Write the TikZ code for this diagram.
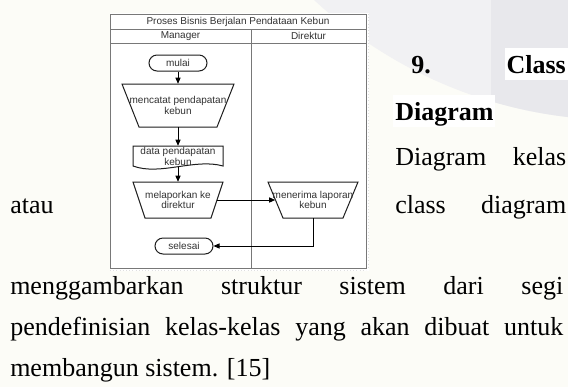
\documentclass[tikz,border=0pt]{standalone}
\usepackage{fontspec}
\setmainfont{Liberation Serif}
\newfontfamily\diafont{Liberation Sans}
\usetikzlibrary{arrows.meta}
\definecolor{pagebg}{RGB}{252,252,247}
\definecolor{wmlight}{RGB}{241,241,243}
\definecolor{wmdark}{RGB}{232,232,236}
\definecolor{laneline}{RGB}{120,120,120}
\definecolor{shapeline}{RGB}{30,30,30}
\definecolor{diatext}{RGB}{50,50,50}
\begin{document}
\begin{tikzpicture}[x=0.75pt,y=-0.75pt,
  lbl/.style={font=\diafont\fontsize{7.5}{6.8}\selectfont, text=diatext, inner sep=0pt, align=center},
  term/.style={lbl, draw=shapeline, line width=0.75pt, rounded corners=6pt, minimum width=43.5pt, minimum height=12pt},
  outline/.style={draw=shapeline, line width=0.75pt},
  flow/.style={draw=black, line width=0.7pt, -{Triangle[length=4.5pt,width=3.8pt]}},
  para/.style={font=\fontsize{19.5}{23}\selectfont, inner sep=0pt, anchor=base west},
  lane/.style={draw=laneline, line width=0.6pt}
]
\useasboundingbox (0,0) rectangle (568,387);
% page background and watermark
\fill[pagebg] (0,0) rectangle (568,387);
\begin{scope}
  \clip (0,0) rectangle (568,387);
  \fill[wmlight] (620,-330) circle[radius=337.5pt];
  \clip (491,0) rectangle (568,387);
  \fill[wmdark] (620,-330) circle[radius=337.5pt];
\end{scope}
% text highlight boxes
\fill[white] (505,48) rectangle (568,80);
\fill[white] (393,95) rectangle (495,127);
% paragraph text
\node[para] (n9) at (411,73) {\bfseries 9.};
\node[para, anchor=base east] (nclass) at (566,73) {\bfseries Class};
\node[para] (ndiag) at (395,120) {\bfseries Diagram};
\node[para] (l1) at (395,165) {\makebox[128.25pt]{Diagram\hfill kelas}};
\node[para] (latau) at (10,213) {atau};
\node[para] (l2) at (395,213) {\makebox[128.25pt]{class\hfill diagram}};
\node[para] (l3) at (10,294) {\makebox[414.75pt]{menggambarkan\hfill struktur\hfill sistem\hfill dari\hfill segi}};
\node[para] (l4) at (10,335) {\makebox[414.75pt]{pendefinisian\hfill kelas-kelas\hfill yang\hfill akan\hfill dibuat\hfill untuk}};
\node[para] (l5) at (10,376) {membangun sistem. [15]};
% diagram image
\fill[white] (110,13) rectangle (369,271);
\draw[gray!25, dotted] (368,14) -- (368,268);
\draw[gray!25, dotted] (110,270) -- (366,270);
\draw[lane] (110,14) rectangle (366,268);
\draw[lane] (110,29) -- (366,29);
\draw[lane] (110,43) -- (366,43);
\draw[lane] (251,29) -- (251,268);
\node[lbl] (title) at (238,21.5) {Proses Bisnis Berjalan Pendataan Kebun};
\node[lbl] (hman) at (180.5,36) {Manager};
\node[lbl] (hdir) at (308.5,36) {Direktur};
% shapes
\node[term] (start) at (178,63) {mulai};
\draw[outline] (122,84) -- (234,84) -- (217,127) -- (139,127) -- cycle;
\node[lbl, minimum width=84pt, minimum height=32.25pt] (t1) at (178,105.5) {mencatat pendapatan\\kebun};
\draw[outline] (133,166) -- (133,146) -- (223,146) -- (223,166) .. controls (195,158) and (160,176) .. (133,166) -- cycle;
\node[lbl, minimum width=67.5pt, minimum height=15.75pt] (doc) at (178,156.5) {data pendapatan\\kebun};
\draw[outline] (133,182) -- (223,182) -- (211,218) -- (145,218) -- cycle;
\node[lbl, minimum width=67.5pt, minimum height=27pt] (t2) at (178,200) {melaporkan ke\\direktur};
\draw[outline] (268,182) -- (358,182) -- (343,218) -- (283,218) -- cycle;
\node[lbl, minimum width=67.5pt, minimum height=27pt] (t3) at (313,200) {menerima laporan\\kebun};
\node[term] (stop) at (184,246) {selesai};
% connectors
\draw[flow] (start.south) -- (t1.north);
\draw[flow] (t1.south) -- (doc.north);
\draw[flow] (doc.south) -- (t2.north);
\draw[flow] ([xshift=-4.7pt]t2.east) -- ([xshift=5.6pt]t3.west);
\draw[flow] (t3.south) |- (stop.east);
\end{tikzpicture}
\end{document}
